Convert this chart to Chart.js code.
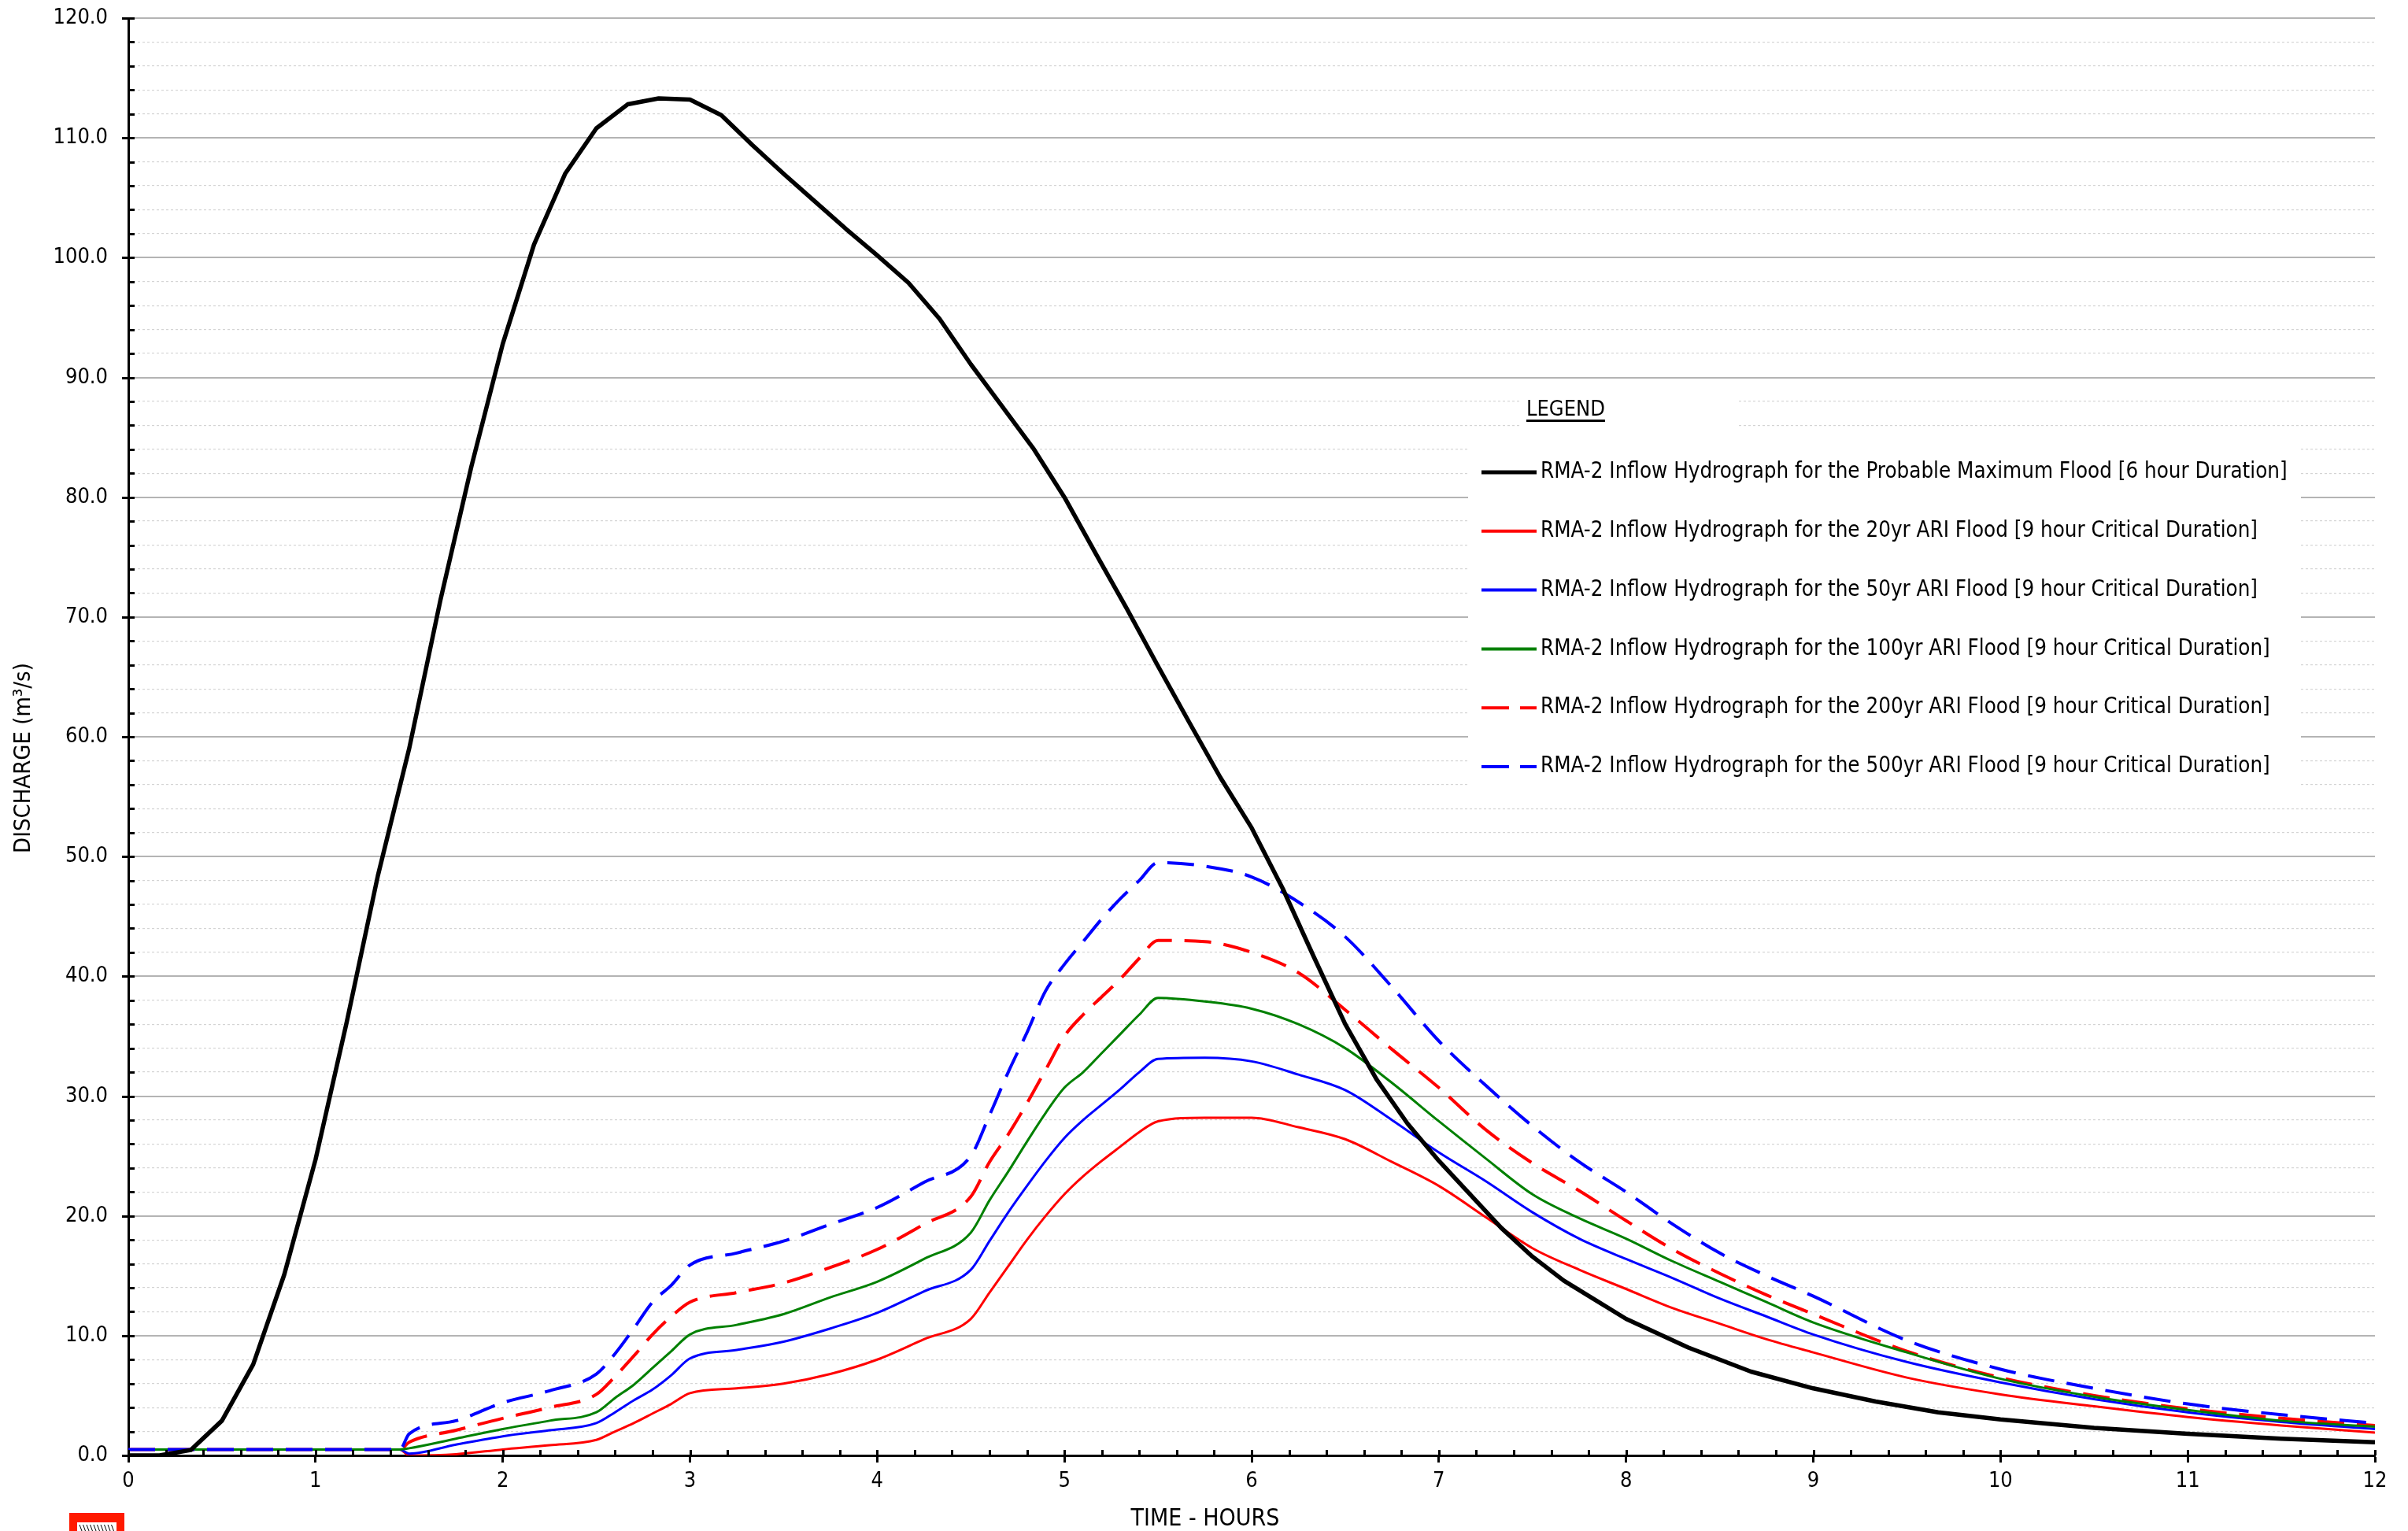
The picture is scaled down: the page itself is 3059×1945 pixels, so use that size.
<!DOCTYPE html>
<html><head><meta charset="utf-8">
<script src="https://cdn.jsdelivr.net/npm/chart.js@4.4.1/dist/chart.umd.min.js"></script>
<style>html,body{margin:0;padding:0;background:#fff;}#wrap{width:3059px;height:1945px;}</style>
</head><body><div id="wrap"><canvas id="c" width="3059" height="1945"></canvas></div>
<script>
const seriesLabels = [
  'RMA-2 Inflow Hydrograph for the Probable Maximum Flood [6 hour Duration]',
  'RMA-2 Inflow Hydrograph for the 20yr ARI Flood [9 hour Critical Duration]',
  'RMA-2 Inflow Hydrograph for the 50yr ARI Flood [9 hour Critical Duration]',
  'RMA-2 Inflow Hydrograph for the 100yr ARI Flood [9 hour Critical Duration]',
  'RMA-2 Inflow Hydrograph for the 200yr ARI Flood [9 hour Critical Duration]',
  'RMA-2 Inflow Hydrograph for the 500yr ARI Flood [9 hour Critical Duration]'
];
const xTickLabels = ['0','1','2','3','4','5','6','7','8','9','10','11','12'];
const yTickLabels = ['0.0','10.0','20.0','30.0','40.0','50.0','60.0','70.0','80.0','90.0','100.0','110.0','120.0'];
const xAxisTitle = 'TIME - HOURS';
const yAxisTitle = 'DISCHARGE (m\u00B3/s)';
const legendTitle = 'LEGEND';

const pmfHours = [0,0.167,0.333,0.5,0.667,0.833,1.0,1.167,1.333,1.5,1.667,1.833,2.0,2.167,2.333,2.5,2.667,2.833,3.0,3.167,3.333,3.5,3.667,3.833,4.0,4.167,4.333,4.5,4.667,4.833,5.0,5.167,5.333,5.5,5.667,5.833,6.0,6.167,6.333,6.5,6.667,6.833,7.0,7.167,7.333,7.5,7.667,7.833,8.0,8.333,8.667,9.0,9.333,9.667,10.0,10.5,11.0,11.5,12.0];
const pmfFlow = [0,0,0.45,2.9,7.6,15.1,24.7,36.2,48.4,59.0,71.4,82.6,92.8,101.1,107.0,110.8,112.8,113.3,113.2,111.9,109.4,107.0,104.7,102.4,100.2,97.9,94.9,91.1,87.6,84.1,80.0,75.3,70.7,65.9,61.2,56.6,52.4,47.3,41.6,36.0,31.4,27.7,24.6,21.8,19.0,16.6,14.6,13.0,11.4,9.0,7.0,5.6,4.5,3.6,3.0,2.3,1.8,1.4,1.1];

const ariHours = [0,1.45,1.5,1.75,2.0,2.25,2.5,2.6,2.7,2.8,2.9,3.0,3.25,3.5,3.75,4.0,4.25,4.5,4.6,4.7,4.8,4.9,5.0,5.1,5.2,5.3,5.4,5.5,5.75,6.0,6.25,6.5,6.75,7.0,7.25,7.5,7.75,8.0,8.25,8.5,8.75,9.0,9.5,10.0,10.5,11.0,11.5,12.0];
const flow20yr = [0.5,0.5,0.0,0.1,0.5,0.85,1.3,2.0,2.7,3.5,4.3,5.2,5.6,6.0,6.8,8.0,9.7,11.4,13.6,15.8,18.0,20.0,21.8,23.3,24.6,25.8,27.0,27.9,28.2,28.2,27.4,26.4,24.5,22.5,19.9,17.3,15.5,13.9,12.3,11.0,9.7,8.6,6.5,5.1,4.1,3.2,2.5,1.9];
const flow50yr = [0.5,0.5,0.15,0.9,1.6,2.1,2.7,3.6,4.6,5.5,6.7,8.1,8.8,9.5,10.6,11.9,13.7,15.5,17.9,20.3,22.5,24.6,26.5,28.0,29.3,30.6,32.0,33.1,33.2,32.9,31.8,30.5,28.0,25.3,22.9,20.3,18.1,16.4,14.8,13.1,11.6,10.1,7.8,6.1,4.7,3.6,2.8,2.2];
const flow100yr = [0.5,0.5,0.6,1.4,2.2,2.9,3.6,4.8,5.9,7.3,8.7,10.1,10.9,11.8,13.2,14.5,16.4,18.6,21.3,23.7,26.2,28.6,30.7,32.0,33.6,35.2,36.8,38.2,37.9,37.3,36.0,34.0,31.1,27.9,24.8,21.8,19.8,18.1,16.2,14.5,12.8,11.1,8.6,6.4,4.9,3.8,2.9,2.4];
const flow200yr = [0.5,0.5,1.1,2.1,3.1,4.0,5.1,6.6,8.3,10.1,11.6,12.8,13.6,14.4,15.7,17.2,19.3,21.6,24.5,26.8,29.4,32.2,35.0,36.8,38.3,39.8,41.5,43.0,42.9,42.0,40.3,37.2,33.9,30.7,27.2,24.4,22.1,19.6,17.2,15.2,13.4,11.8,8.7,6.5,5.0,3.9,3.1,2.5];
const flow500yr = [0.5,0.5,1.8,2.9,4.4,5.4,6.8,8.5,10.6,12.8,14.2,15.9,16.9,17.9,19.3,20.7,22.8,25.0,28.4,32.0,35.3,38.8,41.0,42.9,44.8,46.5,48.0,49.5,49.2,48.3,46.2,43.3,39.1,34.6,30.9,27.5,24.5,22.0,19.3,16.9,15.0,13.3,9.6,7.2,5.6,4.3,3.4,2.7];

const FONT = "'Liberation Sans Narrow','Arial Narrow','DejaVu Sans Condensed',sans-serif";
const toXY = (xs, ys) => xs.map((x, i) => ({x: x, y: ys[i]}));
const DASH = [34, 16];

const base = {pointRadius: 0, fill: false, borderCapStyle: 'butt', borderJoinStyle: 'round'};
const datasets = [
  Object.assign({label: seriesLabels[0], data: toXY(pmfHours, pmfFlow), borderColor: '#000000', borderWidth: 5.5, tension: 0, order: 0}, base),
  Object.assign({label: seriesLabels[1], data: toXY(ariHours, flow20yr), borderColor: '#ff0000', borderWidth: 3, cubicInterpolationMode: 'monotone', order: 5}, base),
  Object.assign({label: seriesLabels[2], data: toXY(ariHours, flow50yr), borderColor: '#0000ff', borderWidth: 3, cubicInterpolationMode: 'monotone', order: 4}, base),
  Object.assign({label: seriesLabels[3], data: toXY(ariHours, flow100yr), borderColor: '#008000', borderWidth: 3, cubicInterpolationMode: 'monotone', order: 2}, base),
  Object.assign({label: seriesLabels[4], data: toXY(ariHours, flow200yr), borderColor: '#ff0000', borderWidth: 4, borderDash: DASH, cubicInterpolationMode: 'monotone', order: 3}, base),
  Object.assign({label: seriesLabels[5], data: toXY(ariHours, flow500yr), borderColor: '#0000ff', borderWidth: 4, borderDash: DASH, cubicInterpolationMode: 'monotone', order: 1}, base)
];

const decor = {
  id: 'decor',
  afterDatasetsDraw(chart) {
    const ctx = chart.ctx, xs = chart.scales.x, ys = chart.scales.y, ca = chart.chartArea;
    ctx.save();
    ctx.strokeStyle = '#000'; ctx.lineWidth = 3;
    for (let v = 0; v <= 120; v += 2) {
      const y = Math.round(ys.getPixelForValue(v)) + 0.5;
      const x0 = (v % 10 === 0) ? ca.left - 8 : ca.left;
      ctx.beginPath(); ctx.moveTo(x0, y); ctx.lineTo(ca.left + 8, y); ctx.stroke();
    }
    for (let k = 0; k <= 60; k++) {
      const x = Math.round(xs.getPixelForValue(k / 5)) + 0.5;
      ctx.beginPath(); ctx.moveTo(x, ca.bottom); ctx.lineTo(x, ca.bottom - 7); ctx.stroke();
    }
    ctx.restore();
  },
  afterDraw(chart) {
    const ctx = chart.ctx;
    ctx.save();
    ctx.fillStyle = '#ffffff';
    ctx.fillRect(1933, 490, 276, 68);
    ctx.fillRect(1865, 556, 1058, 456);
    ctx.fillStyle = '#000';
    ctx.textBaseline = 'middle';
    ctx.textAlign = 'left';
    ctx.font = '27px ' + FONT;
    ctx.fillText(legendTitle, 1939, 521);
    const tw = ctx.measureText(legendTitle).width;
    ctx.fillRect(1939, 533, tw, 3);
    chart.data.datasets.forEach((ds, i) => {
      const y = 600 + i * 74.8;
      ctx.save();
      ctx.strokeStyle = ds.borderColor;
      ctx.lineWidth = i === 0 ? 5 : 4;
      ctx.setLineDash(ds.borderDash ? [35, 14] : []);
      ctx.beginPath(); ctx.moveTo(1882, y); ctx.lineTo(1952, y); ctx.stroke();
      ctx.restore();
      ctx.fillStyle = '#000';
      ctx.font = '27.5px ' + FONT;
      ctx.fillText(ds.label, 1957, y);
    });
    ctx.font = '30px ' + FONT;
    ctx.textAlign = 'center';
    ctx.textBaseline = 'middle';
    ctx.fillText(xAxisTitle, 1531, 1930);
    ctx.save();
    ctx.translate(30, 963);
    ctx.rotate(-Math.PI / 2);
    ctx.font = '29px ' + FONT;
    ctx.fillText(yAxisTitle, 0, 0);
    ctx.restore();
    ctx.fillStyle = '#ff1a00';
    ctx.fillRect(88, 1922, 70, 23);
    ctx.fillStyle = '#ffffff';
    ctx.fillRect(98, 1934, 50, 11);
    ctx.strokeStyle = '#000'; ctx.lineWidth = 1;
    for (let k = 0; k < 10; k++) {
      ctx.beginPath(); ctx.moveTo(101 + k * 4.5, 1937); ctx.lineTo(104 + k * 4.5, 1945); ctx.stroke();
    }
    ctx.restore();
  }
};

new Chart(document.getElementById('c'), {
  type: 'line',
  data: {datasets: datasets},
  plugins: [decor],
  options: {
    responsive: false, animation: false, devicePixelRatio: 1,
    layout: {padding: {top: 23, right: 42, left: 0, bottom: 0}},
    plugins: {legend: {display: false}, tooltip: {enabled: false}},
    scales: {
      x: {
        type: 'linear', min: 0, max: 12,
        ticks: {stepSize: 1, autoSkip: false, maxRotation: 0, padding: 8, color: '#000',
          font: {family: FONT, size: 27}, callback: (v) => xTickLabels[v] !== undefined ? xTickLabels[v] : ''},
        grid: {drawOnChartArea: false, drawTicks: true, tickLength: 9, tickColor: '#000', tickWidth: 3},
        border: {display: true, color: '#000', width: 3},
        afterFit: (s) => { s.height = 96; }
      },
      yMinor: {
        type: 'linear', min: 0, max: 120, position: 'left',
        ticks: {display: false, stepSize: 2, autoSkip: false},
        grid: {drawTicks: false, color: (c) => (c.tick && Math.round(c.tick.value) % 10 === 0) ? 'rgba(0,0,0,0)' : '#d4d4d4', lineWidth: 1.2},
        border: {display: false, dash: [3, 3]},
        afterFit: (s) => { s.width = 0; }
      },
      y: {
        type: 'linear', min: 0, max: 120, position: 'left',
        ticks: {stepSize: 10, autoSkip: false, padding: 0, color: '#000',
          font: {family: FONT, size: 27}, callback: (v) => yTickLabels[Math.round(v / 10)]},
        grid: {color: '#b4b4b4', lineWidth: 2, tickLength: 26, tickColor: 'rgba(0,0,0,0)', tickWidth: 3},
        border: {display: true, color: '#000', width: 3},
        afterFit: (s) => { s.width = 163; }
      }
    }
  }
});
</script></body></html>
